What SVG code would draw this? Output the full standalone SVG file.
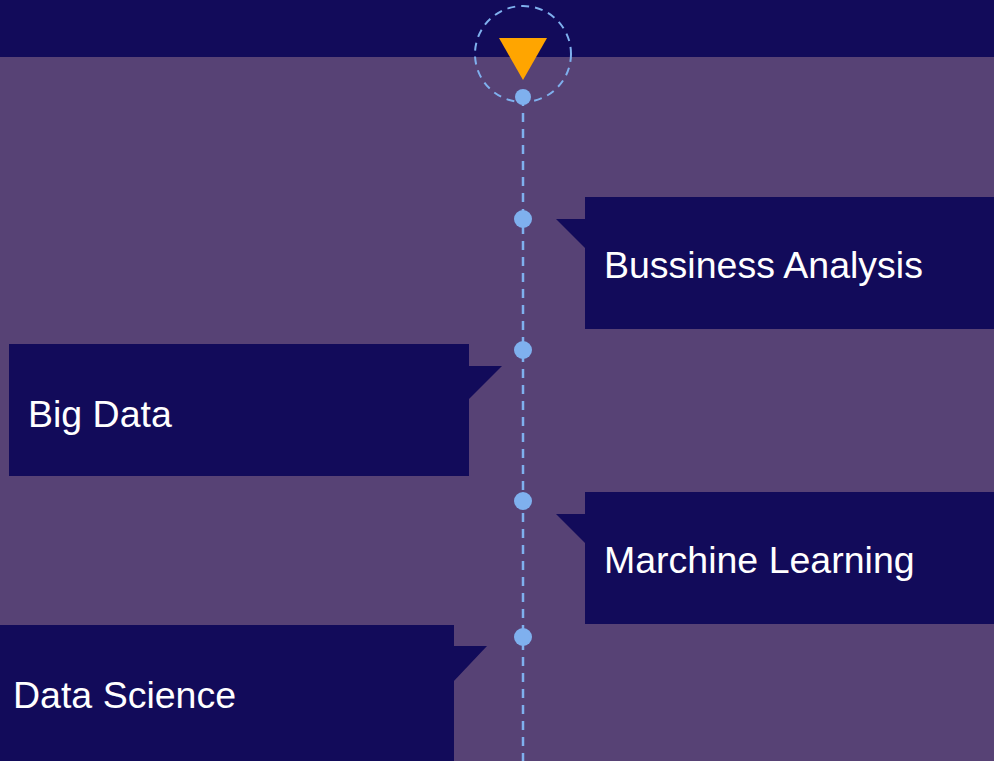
<svg xmlns="http://www.w3.org/2000/svg" width="994" height="761" viewBox="0 0 994 761">
<style>
.box{fill:#120b5a}
.lbl{font-family:"Liberation Sans",Arial,sans-serif;font-size:37.5px;fill:#ffffff}
.dot{fill:#7fb0ee}
.line{stroke:#7fb0ee;stroke-width:2.5;stroke-dasharray:9 7;fill:none}
</style>
<rect x="0" y="0" width="994" height="761" fill="#574275"/>
<rect x="0" y="0" width="994" height="57" fill="#120b5a"/>
<g id="connectors">
<line class="line" x1="523" y1="97" x2="523" y2="761"/>
<circle cx="523" cy="54" r="48" fill="none" stroke="#7fb0ee" stroke-width="2" stroke-dasharray="8 6"/>
</g>
<g id="start">
<polygon points="499,38 547,38 523,80" fill="#ffa500"/>
<circle class="dot" cx="523" cy="97" r="8"/>
</g>
<g id="node-bussiness">
<circle class="dot" cx="523" cy="219" r="9"/>
<rect class="box" x="585" y="197" width="409" height="132"/>
<polygon class="box" points="556,219 586,219 586,249"/>
<text class="lbl" x="604" y="278">Bussiness Analysis</text>
</g>
<g id="node-bigdata">
<circle class="dot" cx="523" cy="350" r="9"/>
<rect class="box" x="9" y="344" width="460" height="132"/>
<polygon class="box" points="502,366 468,366 468,400"/>
<text class="lbl" x="28" y="427">Big Data</text>
</g>
<g id="node-ml">
<circle class="dot" cx="523" cy="501" r="9"/>
<rect class="box" x="585" y="492" width="409" height="132"/>
<polygon class="box" points="556,514 586,514 586,544"/>
<text class="lbl" x="604" y="573">Marchine Learning</text>
</g>
<g id="node-ds">
<circle class="dot" cx="523" cy="637" r="9"/>
<rect class="box" x="0" y="625" width="454" height="136"/>
<polygon class="box" points="487,646 453,646 453,682"/>
<text class="lbl" x="13" y="708">Data Science</text>
</g>
</svg>
